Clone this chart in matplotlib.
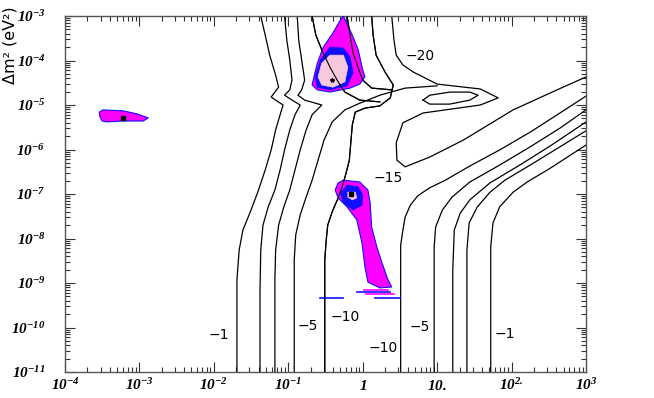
import matplotlib
matplotlib.use("Agg")
import matplotlib.pyplot as plt
import numpy as np
from matplotlib.ticker import FixedLocator, FixedFormatter, LogLocator, NullFormatter

plt.rcParams['mathtext.fontset'] = 'custom'
plt.rcParams['mathtext.rm'] = 'Liberation Serif:bold:italic'
plt.rcParams['mathtext.it'] = 'Liberation Serif:bold:italic'
plt.rcParams['mathtext.bf'] = 'Liberation Serif:bold:italic'

# all values are log10(tan^2 theta) and log10(dm^2 / eV^2)

# contour lines rising from the bottom on the left
L1_x = [-1.69, -1.69, -1.66, -1.61, -1.51, -1.41, -1.31, -1.23, -1.17, -1.11, -1.07, -1.17, -1.23, -1.18, -1.13, -1.17, -1.25, -1.31, -1.37]
L1_y = [-11.0, -8.93, -8.26, -7.81, -7.40, -6.96, -6.46, -6.01, -5.56, -5.22, -5.00, -4.89, -4.82, -4.71, -4.60, -4.33, -3.88, -3.43, -3.00]
L2_x = [-1.38, -1.38, -1.37, -1.34, -1.27, -1.18, -1.11, -1.05, -0.98, -0.91, -0.84, -0.95, -1.05, -0.98, -0.95, -0.98, -1.02, -1.05]
L2_y = [-11.0, -9.16, -8.26, -7.70, -7.29, -6.91, -6.46, -6.01, -5.56, -5.22, -5.00, -4.89, -4.78, -4.66, -4.44, -3.99, -3.54, -3.00]
L3_x = [-1.18, -1.18, -1.17, -1.13, -1.06, -0.98, -0.91, -0.84, -0.76, -0.68, -0.55, -0.78, -0.87, -0.82, -0.78, -0.82, -0.86, -0.88]
L3_y = [-11.0, -8.93, -8.26, -7.70, -7.29, -6.91, -6.46, -6.01, -5.56, -5.22, -5.00, -4.89, -4.78, -4.66, -4.44, -3.99, -3.54, -3.00]
L4_x = [-0.92, -0.92, -0.90, -0.84, -0.76, -0.68, -0.60, -0.52, -0.41, -0.24, -0.04, 0.23, 0.57, 1.00]
L4_y = [-11.0, -8.48, -7.92, -7.47, -7.07, -6.69, -6.24, -5.79, -5.38, -5.11, -4.96, -4.78, -4.62, -4.57]
L5_x = [-0.51, -0.51, -0.49, -0.47, -0.41, -0.33, -0.28, -0.23, -0.18, -0.16, -0.14, -0.10, 0.03, 0.23, 0.37, 0.41, 0.30, 0.18, 0.14, 0.12]
L5_y = [-11.0, -8.48, -8.03, -7.70, -7.40, -7.09, -6.86, -6.57, -6.24, -5.85, -5.45, -5.16, -5.07, -5.02, -4.84, -4.55, -4.26, -3.88, -3.43, -3.00]

# lines crossing the upper (LMA) region
T1_x = [-0.21, -0.17, -0.13, -0.06, 0.00, 0.12, 0.39]
T1_y = [-3.00, -3.43, -3.83, -4.17, -4.44, -4.62, -4.66]
T2_x = [-0.68, -0.63, -0.55, -0.44, -0.33, -0.24, -0.04, 0.23]
T2_y = [-3.00, -3.43, -3.76, -4.15, -4.48, -4.71, -4.89, -4.93]

# -20 / -15 envelope and the small closed loop
E_x = [0.39, 0.42, 0.45, 0.54, 0.68, 1.00, 1.58, 1.82, 1.58, 0.81, 0.54, 0.45, 0.46, 0.57, 0.90, 1.35, 2.02, 2.69, 3.00]
E_y = [-3.00, -3.54, -3.88, -4.10, -4.26, -4.53, -4.64, -4.84, -5.00, -5.18, -5.40, -5.85, -6.24, -6.39, -6.17, -5.79, -5.11, -4.60, -4.37]
O_x = [0.81, 0.90, 1.17, 1.44, 1.55, 1.44, 1.17, 0.90, 0.81]
O_y = [-4.89, -4.78, -4.71, -4.71, -4.78, -4.89, -4.98, -4.98, -4.89]

# contour lines rising from the bottom on the right
R1_x = [0.51, 0.51, 0.54, 0.57, 0.64, 0.74, 0.90, 1.11, 1.44, 1.84, 2.25, 2.65, 3.00]
R1_y = [-11.0, -8.15, -7.81, -7.52, -7.25, -7.04, -6.86, -6.69, -6.37, -6.01, -5.61, -5.18, -4.80]
R2_x = [0.96, 0.96, 0.98, 1.07, 1.20, 1.44, 1.84, 2.25, 2.65, 3.00]
R2_y = [-11.0, -8.19, -7.74, -7.36, -7.07, -6.73, -6.35, -5.94, -5.52, -5.11]
R3_x = [1.21, 1.21, 1.23, 1.31, 1.44, 1.71, 2.11, 2.52, 3.00]
R3_y = [-11.0, -8.71, -7.81, -7.43, -7.13, -6.75, -6.35, -5.92, -5.38]
R4_x = [1.40, 1.40, 1.43, 1.54, 1.71, 1.91, 2.25, 2.65, 3.00]
R4_y = [-11.0, -8.26, -7.65, -7.29, -6.96, -6.69, -6.35, -5.94, -5.58]
R5_x = [1.72, 1.72, 1.75, 1.84, 2.02, 2.21, 2.52, 3.00]
R5_y = [-11.0, -8.19, -7.65, -7.29, -6.96, -6.73, -6.42, -5.90]

contour_lines = [(L1_x, L1_y), (L2_x, L2_y), (L3_x, L3_y), (L4_x, L4_y), (L5_x, L5_y),
                 (T1_x, T1_y), (T2_x, T2_y), (E_x, E_y), (O_x, O_y),
                 (R1_x, R1_y), (R2_x, R2_y), (R3_x, R3_y), (R4_x, R4_y), (R5_x, R5_y)]

# allowed regions
vac_x = [-3.54, -3.49, -3.22, -3.03, -2.88, -2.95, -3.22, -3.44, -3.50, -3.53]
vac_y = [-5.16, -5.11, -5.13, -5.20, -5.29, -5.36, -5.36, -5.38, -5.36, -5.27]
vac_best = (-3.22, -5.29)

lma_outer_x = [-0.26, -0.14, -0.06, 0.00, 0.03, -0.04, -0.17, -0.44, -0.61, -0.68, -0.65, -0.61, -0.53, -0.40, -0.30]
lma_outer_y = [-3.00, -3.43, -3.76, -4.21, -4.37, -4.53, -4.62, -4.71, -4.66, -4.55, -4.33, -4.06, -3.70, -3.38, -3.09]
lma_mid_x = [-0.44, -0.26, -0.17, -0.13, -0.21, -0.44, -0.61, -0.64, -0.57]
lma_mid_y = [-3.70, -3.72, -3.92, -4.28, -4.57, -4.66, -4.60, -4.37, -3.99]
lma_in_x = [-0.44, -0.26, -0.20, -0.24, -0.40, -0.55, -0.60, -0.55]
lma_in_y = [-3.88, -3.88, -4.15, -4.48, -4.60, -4.55, -4.37, -4.06]
lma_best = (-0.41, -4.44)

low_outer_x = [-0.26, -0.04, 0.07, 0.10, 0.12, 0.19, 0.26, 0.34, 0.39, 0.23, 0.07, 0.03, -0.01, -0.08, -0.21, -0.33, -0.37, -0.33]
low_outer_y = [-6.69, -6.73, -6.91, -7.20, -7.74, -8.19, -8.55, -8.93, -9.09, -9.11, -8.98, -8.64, -8.10, -7.58, -7.29, -7.09, -6.91, -6.75]
low_mid_x = [-0.21, -0.06, 0.00, -0.01, -0.13, -0.26, -0.30]
low_mid_y = [-6.80, -6.84, -7.02, -7.25, -7.36, -7.20, -6.98]
low_in_x = [-0.20, -0.10, -0.08, -0.14, -0.20]
low_in_y = [-6.96, -6.96, -7.09, -7.13, -7.07]
low_best = (-0.16, -7.00)

# thin horizontal streaks under the LOW tail: (y, x_start, x_end)
streaks_blue = [(-9.34, -0.57, -0.26), (-9.34, 0.16, 0.50), (-9.20, -0.08, 0.37)]
streaks_mag = [(-9.16, 0.02, 0.34), (-9.25, 0.05, 0.42)]

level_labels = [("\u221220", 0.77, -3.90), ("\u221215", 0.34, -6.64), ("\u221210", -0.24, -9.76),
                ("\u221210", 0.27, -10.46), ("\u22125", -0.74, -9.97), ("\u22125", 0.77, -9.99),
                ("\u22121", -1.94, -10.17), ("\u22121", 1.91, -10.15)]

x_ticks = [-4, -3, -2, -1, 0, 1, 2, 3]
x_tick_labels = [r'$10^{-4}$', r'$10^{-3}$', r'$10^{-2}$', r'$10^{-1}$', r'$1$', r'$10.$', r'$10^{2.}$', r'$10^{3}$']
y_ticks = [-11, -10, -9, -8, -7, -6, -5, -4, -3]
y_tick_labels = [r'$10^{-11}$', r'$10^{-10}$', r'$10^{-9}$', r'$10^{-8}$', r'$10^{-7}$',
                 r'$10^{-6}$', r'$10^{-5}$', r'$10^{-4}$', r'$10^{-3}$']

MAG = '#ff00ff'
BLUE = '#1010ff'
PINK = '#f8c8de'


def p(v):
    return 10.0 ** np.asarray(v)


fig = plt.figure(figsize=(6.54, 3.98), dpi=100)
ax = fig.add_axes([65 / 654, 1 - 372 / 398, 521 / 654, 356 / 398])
ax.set_xscale('log')
ax.set_yscale('log')

for lx, ly in contour_lines:
    ax.plot(p(lx), p(ly), color='black', lw=0.9, zorder=2)

# filled regions
ax.fill(p(vac_x), p(vac_y), facecolor=MAG, edgecolor=BLUE, lw=0.8, zorder=3)
ax.fill(p(lma_outer_x), p(lma_outer_y), facecolor=MAG, edgecolor=BLUE, lw=0.8, zorder=3)
ax.fill(p(lma_mid_x), p(lma_mid_y), facecolor=BLUE, edgecolor=BLUE, lw=0.5, zorder=3)
ax.fill(p(lma_in_x), p(lma_in_y), facecolor=PINK, edgecolor=PINK, lw=0.5, zorder=3)
ax.fill(p(low_outer_x), p(low_outer_y), facecolor=MAG, edgecolor=BLUE, lw=0.8, zorder=3)
ax.fill(p(low_mid_x), p(low_mid_y), facecolor=BLUE, edgecolor=BLUE, lw=0.5, zorder=3)
ax.fill(p(low_in_x), p(low_in_y), facecolor=PINK, edgecolor=PINK, lw=0.5, zorder=3)
for yv, x0, x1 in streaks_blue:
    ax.plot(p([x0, x1]), p([yv, yv]), color=BLUE, lw=1.2, zorder=3)
for yv, x0, x1 in streaks_mag:
    ax.plot(p([x0, x1]), p([yv, yv]), color=MAG, lw=1.2, zorder=3)

# the part of the lines drawn over the LMA region
for lx, ly in [(T1_x, T1_y), (T2_x, T2_y), (L5_x, L5_y)]:
    ax.plot(p(lx), p(ly), color='black', lw=0.8, zorder=4)

for bx, by in [vac_best, low_best]:
    ax.plot(10 ** bx, 10 ** by, 's', color='black', ms=2.2, zorder=5)
ax.plot(10 ** lma_best[0], 10 ** lma_best[1], marker='*', color='black', ms=3, zorder=5)

for txt, tx, ty in level_labels:
    ax.text(10 ** tx, 10 ** ty, txt, fontsize=10, ha='center', va='center', zorder=6)

ax.set_xlim(1e-4, 1e3)
ax.set_ylim(1e-11, 1e-3)
ax.xaxis.set_major_locator(FixedLocator([10.0 ** t for t in x_ticks]))
ax.xaxis.set_major_formatter(FixedFormatter(x_tick_labels))
ax.yaxis.set_major_locator(FixedLocator([10.0 ** t for t in y_ticks]))
ax.yaxis.set_major_formatter(FixedFormatter(y_tick_labels))
ax.xaxis.set_minor_locator(LogLocator(base=10, subs=np.arange(2, 10), numticks=20))
ax.yaxis.set_minor_locator(LogLocator(base=10, subs=np.arange(2, 10), numticks=20))
ax.xaxis.set_minor_formatter(NullFormatter())
ax.yaxis.set_minor_formatter(NullFormatter())
ax.tick_params(which='both', direction='in', top=True, right=True, color='#333333', width=0.8)
ax.tick_params(which='major', length=7, labelsize=11)
ax.tick_params(which='minor', length=3.5)
ax.tick_params(axis='x', pad=4)
ax.tick_params(axis='y', pad=14)
for s in ax.spines.values():
    s.set_color('#555555')
    s.set_linewidth(1.0)

fig.text(10 / 654, 1 - 6 / 398, '\u0394m\u00b2 (eV\u00b2)', rotation=90, ha='center', va='top', fontsize=11.5)

fig.savefig('out.png', dpi=100)
